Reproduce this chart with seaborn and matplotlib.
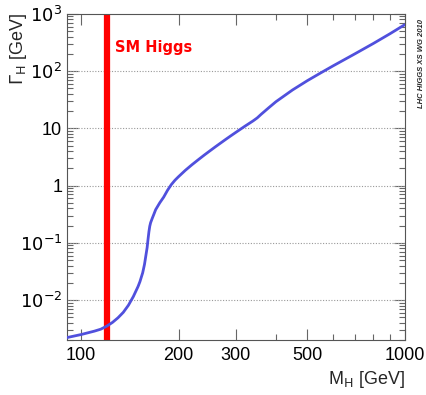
import numpy as np
import pandas as pd
import matplotlib
matplotlib.use("Agg")
import matplotlib.pyplot as plt
import seaborn as sns
from matplotlib.ticker import FixedLocator, NullFormatter

sns.set_theme(style="ticks")
plt.rcParams['font.family'] = ['Liberation Sans', 'DejaVu Sans']

# Higgs mass [GeV]
mass = [90, 100, 110, 115, 120, 125, 130, 135, 140, 145, 150, 152, 155, 157, 160,
        161, 162, 163, 164, 166, 168, 170, 175, 180, 185, 190, 195, 200, 210, 220,
        230, 240, 250, 260, 270, 280, 290, 300, 320, 340, 350, 360, 370, 380, 400,
        450, 500, 550, 600, 700, 800, 900, 1000]
# Total width Gamma_H [GeV]
width = [2.2e-3, 2.5e-3, 2.87e-3, 3.1e-3, 3.5e-3, 4.07e-3, 4.9e-3, 6.1e-3, 8.1e-3,
         1.15e-2, 1.73e-2, 2.1e-2, 3.0e-2, 4.2e-2, 8.3e-2,
         0.115, 0.155, 0.195, 0.225, 0.27, 0.32, 0.38, 0.50, 0.63, 0.83, 1.04, 1.24,
         1.43, 1.85, 2.31, 2.82, 3.40, 4.04, 4.76, 5.55, 6.43, 7.39, 8.43, 10.8,
         13.5, 15.2, 17.6, 20.1, 22.9, 29.2, 46.8, 68.0, 93.0, 123, 199, 304, 449, 647]
sm_higgs_mass = 120

x_ticks = [100, 200, 300, 500, 1000]
x_ticklabels = ["100", "200", "300", "500", "1000"]
y_ticks = [1e-2, 1e-1, 1, 10, 1e2, 1e3]
y_ticklabels = [r"$10^{-2}$", r"$10^{-1}$", "1", "10", r"$10^{2}$", r"$10^{3}$"]

df = pd.DataFrame({"M": mass, "G": width})

fig = plt.figure(figsize=(4.27, 3.95), dpi=100)
ax = fig.add_axes([0.157, 0.139, 0.791, 0.826])

ax.set_xscale("log")
ax.set_yscale("log")
ax.set_xlim(90.5, 1000)
ax.set_ylim(2.0e-3, 1e3)

for yt in y_ticks[:-1]:
    ax.axhline(yt, color="#999999", lw=0.8, ls=(0, (1, 1.5)), zorder=1)

ax.axvline(sm_higgs_mass, color="#ff0000", lw=4.5, zorder=2)
sns.lineplot(data=df, x="M", y="G", ax=ax, color="#5050dd", lw=2, zorder=3)

ax.text(127, 2.55e2, "SM Higgs", color="#ff0000", fontsize=10.5, fontweight="bold",
        va="center", ha="left", family=["DejaVu Sans"])

ax.xaxis.set_major_locator(FixedLocator(x_ticks))
ax.xaxis.set_minor_locator(FixedLocator([90, 400, 600, 700, 800, 900]))
ax.xaxis.set_minor_formatter(NullFormatter())
ax.set_xticklabels(x_ticklabels)
ax.yaxis.set_major_locator(FixedLocator(y_ticks))
ax.set_yticklabels(y_ticklabels)
minor_y = [m * 10.0 ** e for e in range(-3, 3) for m in range(2, 10)]
ax.yaxis.set_minor_locator(FixedLocator(minor_y))
ax.yaxis.set_minor_formatter(NullFormatter())

ax.tick_params(which="both", direction="in", top=True, right=True, colors="#666666",
               labelcolor="black", labelsize=13, width=0.8)
ax.tick_params(which="major", length=8)
ax.tick_params(which="minor", length=4)
ax.tick_params(axis="x", pad=5)
for s in ax.spines.values():
    s.set_color("#555555")
    s.set_linewidth(0.8)

ax.set_xlabel("")
ax.set_ylabel("")
fig.text(0.948, 0.012, r"M$_{\rm H}$ [GeV]", ha="right", va="bottom", fontsize=13)
fig.text(0.018, 0.967, r"$\Gamma_{\rm H}$ [GeV]", rotation=90, ha="left", va="top", fontsize=13)
fig.text(0.986, 0.84, "LHC HIGGS XS WG 2010", rotation=90, ha="center", va="center",
         fontsize=5.5, fontweight="bold", style="italic")

fig.savefig("out.png", dpi=100)
